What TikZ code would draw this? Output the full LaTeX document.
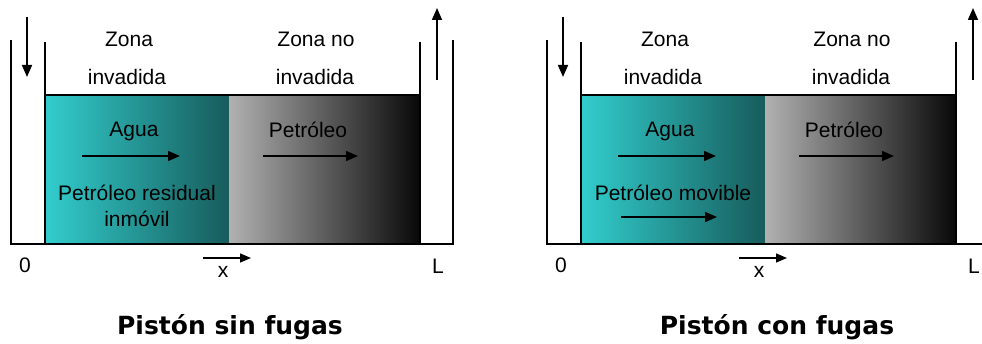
\documentclass[tikz,border=0pt]{standalone}
\usepackage{fontspec}
\setmainfont{Liberation Sans}
\newfontfamily\titlefont{DejaVu Sans}
\usetikzlibrary{arrows.meta}
\definecolor{tealL}{RGB}{50,205,205}
\definecolor{tealR}{RGB}{24,92,92}
\definecolor{oilL}{RGB}{178,178,178}
\definecolor{oilR}{RGB}{8,8,8}
\tikzset{
  wall/.style={line width=1.7pt},
  flow/.style={line width=1.6pt,-{Triangle[length=12pt,width=10pt]}},
  axisarrow/.style={line width=1.4pt,-{Triangle[length=11pt,width=9pt]}},
  lbl/.style={font=\fontsize{21}{24}\selectfont, anchor=base, inner sep=0pt},
  ttl/.style={font=\titlefont\bfseries\fontsize{25}{30}\selectfont, anchor=base, inner sep=0pt},
  water/.style={left color=tealL, right color=tealR},
  oil/.style={left color=oilL, right color=oilR},
}
\begin{document}
\begin{tikzpicture}[x=1pt,y=-1pt]
\clip (0,0) rectangle (982,344);
\fill[white] (0,0) rectangle (982,344);

% ---------- piston displacement without leaks ----------
\begin{scope}
  \shade[water] (45,95) rectangle (228,244);
  \shade[oil] (228,95) rectangle (420,244);
  \draw[tealR, line width=1.2pt] (228,95) -- (228,244);
  \coordinate (a-oL) at (11,40);   \coordinate (a-bL) at (11,244);
  \coordinate (a-oR) at (453,40);  \coordinate (a-bR) at (453,244);
  \coordinate (a-iL) at (45,42);   \coordinate (a-iLb) at (45,244);
  \coordinate (a-iR) at (420,42);  \coordinate (a-iRb) at (420,244);
  \draw[wall] (a-oL) -- (a-bL) -- (a-bR) -- (a-oR);
  \draw[wall] (a-iL) -- (a-iLb);
  \draw[wall] (a-iR) -- (a-iRb);
  \draw[wall] (45,95) -- (420,95);
  % injection and production
  \coordinate (a-in1) at (27,17);  \coordinate (a-in2) at (27,77);
  \coordinate (a-out1) at (437,80); \coordinate (a-out2) at (437,8);
  \draw[flow] (a-in1) -- (a-in2);
  \draw[flow] (a-out1) -- (a-out2);
  % labels
  \node[lbl] (a-z1) at (129,47) {Zona};
  \node[lbl] (a-z2) at (127,85) {invadida};
  \node[lbl] (a-z3) at (316,47) {Zona no};
  \node[lbl] (a-z4) at (315,85) {invadida};
  \node[lbl] (a-agua) at (134,137) {Agua};
  \node[lbl] (a-pet) at (308,138) {Petróleo};
  \node[lbl] (a-res1) at (137,201) {Petróleo residual};
  \node[lbl] (a-res2) at (137,227) {inmóvil};
  \coordinate (a-w1) at (82,156);  \coordinate (a-w2) at (180,156);
  \coordinate (a-p1) at (263,156); \coordinate (a-p2) at (358,156);
  \draw[flow] (a-w1) -- (a-w2);
  \draw[flow] (a-p1) -- (a-p2);
  % axis
  \node[lbl] (a-zero) at (25,273) {0};
  \node[lbl] (a-L) at (438,274) {L};
  \node[lbl] (a-x) at (223,278) {x};
  \coordinate (a-x1) at (203,258); \coordinate (a-x2) at (251,258);
  \draw[axisarrow] (a-x1) -- (a-x2);
  \node[ttl] (a-title) at (230,335) {Pistón sin fugas};
\end{scope}

% ---------- piston displacement with leaks ----------
\begin{scope}[xshift=536pt]
  \shade[water] (45,95) rectangle (228,244);
  \shade[oil] (228,95) rectangle (420,244);
  \draw[tealR, line width=1.2pt] (228,95) -- (228,244);
  \coordinate (b-oL) at (11,40);   \coordinate (b-bL) at (11,244);
  \coordinate (b-oR) at (453,40);  \coordinate (b-bR) at (453,244);
  \coordinate (b-iL) at (45,42);   \coordinate (b-iLb) at (45,244);
  \coordinate (b-iR) at (420,42);  \coordinate (b-iRb) at (420,244);
  \draw[wall] (b-oL) -- (b-bL) -- (b-bR) -- (b-oR);
  \draw[wall] (b-iL) -- (b-iLb);
  \draw[wall] (b-iR) -- (b-iRb);
  \draw[wall] (45,95) -- (420,95);
  \coordinate (b-in1) at (27,17);  \coordinate (b-in2) at (27,77);
  \coordinate (b-out1) at (437,80); \coordinate (b-out2) at (437,8);
  \draw[flow] (b-in1) -- (b-in2);
  \draw[flow] (b-out1) -- (b-out2);
  \node[lbl] (b-z1) at (129,47) {Zona};
  \node[lbl] (b-z2) at (127,85) {invadida};
  \node[lbl] (b-z3) at (316,47) {Zona no};
  \node[lbl] (b-z4) at (315,85) {invadida};
  \node[lbl] (b-agua) at (134,137) {Agua};
  \node[lbl] (b-pet) at (308,138) {Petróleo};
  \node[lbl] (b-mov) at (137,201) {Petróleo movible};
  \coordinate (b-w1) at (82,156);  \coordinate (b-w2) at (180,156);
  \coordinate (b-m1) at (85,217);  \coordinate (b-m2) at (181,217);
  \coordinate (b-p1) at (263,156); \coordinate (b-p2) at (358,156);
  \draw[flow] (b-w1) -- (b-w2);
  \draw[flow] (b-m1) -- (b-m2);
  \draw[flow] (b-p1) -- (b-p2);
  \node[lbl] (b-zero) at (25,273) {0};
  \node[lbl] (b-L) at (438,274) {L};
  \node[lbl] (b-x) at (223,278) {x};
  \coordinate (b-x1) at (203,258); \coordinate (b-x2) at (251,258);
  \draw[axisarrow] (b-x1) -- (b-x2);
  \node[ttl] (b-title) at (241,335) {Pistón con fugas};
\end{scope}
\end{tikzpicture}
\end{document}
